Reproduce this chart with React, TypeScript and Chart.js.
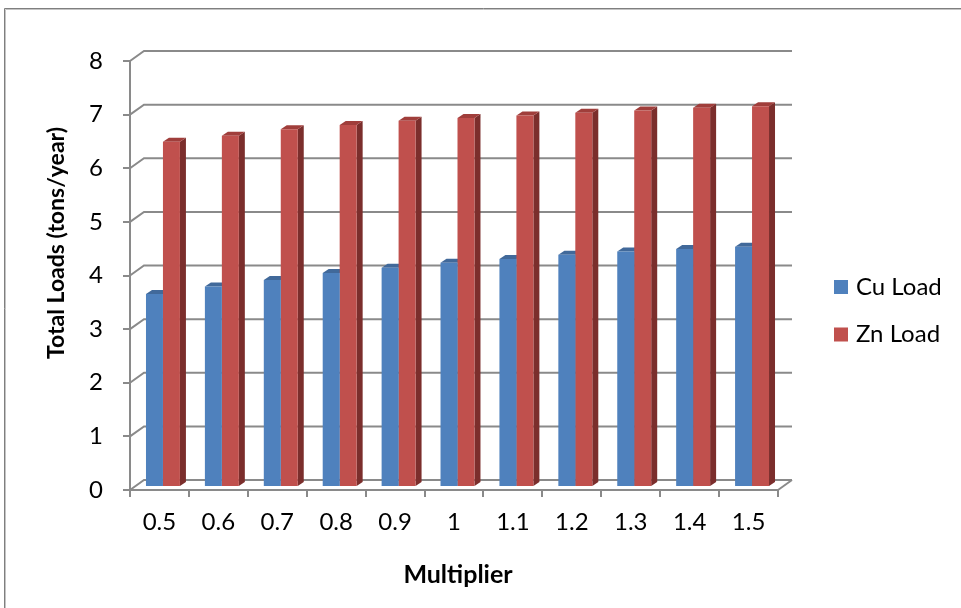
import React, { useEffect, useRef } from "react";
import { Chart, registerables } from "chart.js";

Chart.register(...registerables);

const categories = ["0.5", "0.6", "0.7", "0.8", "0.9", "1", "1.1", "1.2", "1.3", "1.4", "1.5"];
const cuLoad = [3.6, 3.74, 3.86, 3.99, 4.09, 4.18, 4.25, 4.33, 4.39, 4.44, 4.48];
const znLoad = [6.44, 6.55, 6.67, 6.75, 6.83, 6.88, 6.93, 6.98, 7.02, 7.07, 7.1];
const yTicks = [0, 1, 2, 3, 4, 5, 6, 7, 8];
const seriesNames = ["Cu Load", "Zn Load"];
const yTitle = "Total Loads (tons/year)";
const xTitle = "Multiplier";

const FRONT = ["#4F81BD", "#C0504D"];
const SIDE = ["#39608e", "#7b2e2c"];
const TOP = ["#41699a", "#a03e3b"];
const GRID = "#8a8a8a";
const FONT = "Lato";

// depth offsets
const WALL_DX = 14;
const WALL_DY = -10;
const BAR_DX = 3.5;
const BAR_DY = -3;
const FACE_DX = 6;
const FACE_DY = -4;

const threeD = {
  id: "threeD",
  beforeDatasetsDraw(chart: any) {
    const ctx = chart.ctx;
    const ys = chart.scales.y;
    const a = chart.chartArea;
    ctx.save();
    ctx.strokeStyle = GRID;
    ctx.lineWidth = 2;
    for (const v of yTicks) {
      const y = ys.getPixelForValue(v);
      ctx.beginPath();
      ctx.moveTo(a.left, y);
      ctx.lineTo(a.left + WALL_DX, y + WALL_DY);
      ctx.lineTo(a.right + WALL_DX, y + WALL_DY);
      ctx.stroke();
    }
    ctx.beginPath();
    ctx.moveTo(a.right, a.bottom);
    ctx.lineTo(a.right + WALL_DX, a.bottom + WALL_DY);
    ctx.stroke();
    ctx.restore();

    ctx.save();
    ctx.translate(BAR_DX, BAR_DY);
    chart.data.datasets.forEach((ds: any, i: number) => {
      const meta = chart.getDatasetMeta(i);
      meta.data.forEach((el: any) => {
        const p = el.getProps(["x", "y", "base", "width"], true);
        const l = p.x - p.width / 2;
        const r = p.x + p.width / 2;
        ctx.fillStyle = SIDE[i];
        ctx.beginPath();
        ctx.moveTo(r, p.y);
        ctx.lineTo(r + FACE_DX, p.y + FACE_DY);
        ctx.lineTo(r + FACE_DX, p.base + FACE_DY);
        ctx.lineTo(r, p.base);
        ctx.closePath();
        ctx.fill();
        ctx.fillStyle = TOP[i];
        ctx.beginPath();
        ctx.moveTo(l, p.y);
        ctx.lineTo(r, p.y);
        ctx.lineTo(r + FACE_DX, p.y + FACE_DY);
        ctx.lineTo(l + FACE_DX, p.y + FACE_DY);
        ctx.closePath();
        ctx.fill();
      });
    });
    // leave translated for the library's own bar faces
  },
  afterDatasetsDraw(chart: any) {
    chart.ctx.restore();
  },
  afterDraw(chart: any) {
    const ctx = chart.ctx;
    ctx.save();
    // frame
    ctx.lineWidth = 1;
    ctx.strokeStyle = "#7f7f7f";
    ctx.beginPath();
    ctx.moveTo(4.5, 620);
    ctx.lineTo(4.5, 8.5);
    ctx.lineTo(980, 8.5);
    ctx.stroke();
    ctx.strokeStyle = "#c4c4c4";
    ctx.beginPath();
    ctx.moveTo(5.5, 620);
    ctx.lineTo(5.5, 9.5);
    ctx.lineTo(980, 9.5);
    ctx.stroke();

    // titles
    ctx.fillStyle = "#000";
    ctx.textAlign = "center";
    ctx.textBaseline = "middle";
    ctx.font = `bold 25px ${FONT}`;
    ctx.fillText(xTitle, 458, 575);
    ctx.save();
    ctx.font = `bold 23px ${FONT}`;
    ctx.translate(57, 243);
    ctx.rotate(-Math.PI / 2);
    ctx.fillText(yTitle, 0, 0);
    ctx.restore();

    // legend
    ctx.font = `24px ${FONT}`;
    ctx.textAlign = "left";
    chart.data.datasets.forEach((ds: any, i: number) => {
      const cy = 287 + i * 47.5;
      ctx.fillStyle = ds.backgroundColor;
      ctx.fillRect(834, cy - 7, 14, 14);
      ctx.fillStyle = "#000";
      ctx.fillText(ds.label, 856, cy);
    });
    ctx.restore();
  },
};

export default function App() {
  const ref = useRef<HTMLCanvasElement>(null);
  useEffect(() => {
    if (!ref.current) return;
    const chart = new Chart(ref.current, {
      type: "bar",
      data: {
        labels: categories,
        datasets: [
          { label: seriesNames[0], data: cuLoad, backgroundColor: FRONT[0], clip: false as any },
          { label: seriesNames[1], data: znLoad, backgroundColor: FRONT[1], clip: false as any },
        ],
      },
      options: {
        responsive: false,
        animation: false,
        devicePixelRatio: 1,
        layout: { padding: { left: 60, right: 183, top: 61, bottom: 58 } },
        datasets: { bar: { categoryPercentage: 34 / 59, barPercentage: 1, borderWidth: 0 } },
        plugins: { legend: { display: false }, tooltip: { enabled: false } },
        scales: {
          x: {
            type: "category",
            offset: true,
            grid: { display: true, drawOnChartArea: false, drawTicks: true, tickLength: 7, color: GRID, lineWidth: 2, offset: true },
            border: { display: true, color: GRID, width: 2 },
            ticks: { font: { family: FONT, size: 24 }, color: "#000", padding: 11, maxRotation: 0, autoSkip: false },
            afterFit: (s: any) => { s.height = 60; },
          },
          y: {
            min: 0,
            max: 8,
            afterBuildTicks: (s: any) => { s.ticks = yTicks.map((v) => ({ value: v })); },
            grid: { display: true, drawOnChartArea: false, drawTicks: true, tickLength: 7, color: GRID, lineWidth: 2 },
            border: { display: true, color: GRID, width: 2 },
            ticks: { font: { family: FONT, size: 24 }, color: "#000", padding: 20 },
            afterFit: (s: any) => { s.width = 70; },
          },
        },
      },
      plugins: [threeD],
    });
    return () => chart.destroy();
  }, []);
  return (
    <canvas
      ref={ref}
      width={961}
      height={608}
      style={{ position: "absolute", left: 0, top: 0, width: 961, height: 608 }}
    />
  );
}
